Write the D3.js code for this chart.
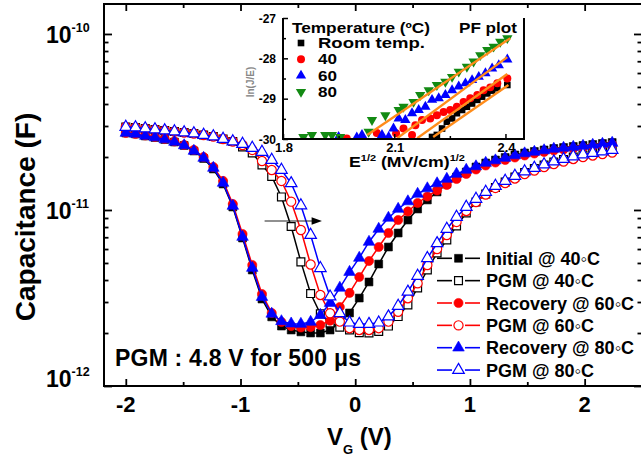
<!DOCTYPE html>
<html>
<head>
<meta charset="utf-8">
<script src="https://cdn.jsdelivr.net/npm/d3@7"></script>
<style>
body{margin:0;background:#fff}
text{font-family:"Liberation Sans",Arial,sans-serif;font-weight:bold;fill:#000}
</style>
</head>
<body>
<svg id="chart" width="641" height="457"></svg>
<script>
// gate voltage sweep (V), 51 points
const vg = d3.range(51).map(i => -2 + i * 0.0848)

// capacitance in pF
const initial40 = [27.38,27.03,26.33,25.82,25.15,24.34,23.26,21.64,19.61,17.10,14.05,10.40,6.93,4.56,3.12,2.47,2.19,2.08,2.03,2.00,2.00,2.08,2.31,2.60,3.16,3.90,4.93,6.16,7.40,8.77,10.13,11.40,12.66,14.05,15.40,16.44,17.55,18.49,19.23,19.87,20.54,21.08,21.50,21.93,22.36,22.65,22.95,23.26,23.56,23.87,24.18]
const pgm40 = [29.62,29.43,29.05,28.67,28.29,27.93,27.56,27.21,26.68,26.16,25.31,24.50,22.80,21.08,18.02,15.50,11.86,8.06,5.07,3.35,2.57,2.28,2.16,2.08,2.01,2.00,2.04,2.19,2.48,2.89,3.61,4.56,5.70,6.75,8.11,9.62,11.10,12.33,13.42,14.43,15.40,16.34,17.21,18.02,18.74,19.35,20.00,20.54,20.94,21.36,21.79]
const recovery60 = [27.38,27.03,26.50,25.99,25.31,24.50,23.41,21.93,20.00,17.55,14.62,10.82,7.30,4.87,3.33,2.60,2.31,2.19,2.15,2.16,2.22,2.35,2.81,3.38,4.16,5.13,6.16,7.40,8.77,9.81,10.96,11.93,12.91,13.87,15.00,16.02,16.99,17.90,18.61,19.23,19.87,20.40,20.94,21.36,21.79,22.07,22.36,22.65,22.95,23.26,23.56]
const pgm60 = [29.62,29.43,29.05,28.67,28.29,27.93,27.56,27.21,26.68,26.16,25.31,24.50,23.41,21.93,18.98,16.88,14.62,11.15,7.70,4.90,3.29,2.59,2.32,2.13,2.08,2.08,2.13,2.32,2.64,3.15,3.83,4.87,6.00,7.21,8.55,9.87,11.10,12.25,13.34,14.24,15.10,16.02,16.77,17.55,18.25,18.85,19.48,20.00,20.40,20.81,21.22]
const recovery80 = [27.38,27.03,26.33,25.82,25.15,24.34,23.26,21.64,19.74,17.32,14.24,10.54,7.02,4.68,3.20,2.57,2.33,2.26,2.25,2.31,2.53,2.96,3.61,4.44,5.34,6.58,7.80,9.01,10.13,11.18,12.33,13.25,14.15,15.00,16.02,16.88,17.67,18.49,19.10,19.74,20.40,20.94,21.36,21.79,22.22,22.51,22.80,23.10,23.41,23.71,24.03]
const pgm80 = [29.62,29.43,29.05,28.67,28.29,27.93,27.56,27.21,26.68,26.16,25.31,24.50,23.71,22.51,21.36,19.23,16.88,14.18,10.61,7.21,4.67,3.22,2.59,2.29,2.25,2.25,2.29,2.48,2.85,3.43,4.22,5.32,6.47,7.80,9.13,10.40,11.55,12.66,13.69,14.62,15.61,16.55,17.32,18.13,18.85,19.48,20.14,20.67,21.08,21.50,21.93]

const xTicks = [-2, -1, 0, 1, 2]
const xMinor = [-1.5, -0.5, 0.5, 1.5]
const yTicks = [1e-12, 1e-11, 1e-10]

// inset: Poole-Frenkel plot, [E^1/2, ln(J/E)]
const pfRoom = [[2.202,-29.95],[2.215,-29.90],[2.229,-29.74],[2.242,-29.57],[2.256,-29.49],[2.269,-29.36],[2.283,-29.28],[2.296,-29.20],[2.310,-29.12],[2.324,-29.03],[2.337,-28.95],[2.351,-28.87],[2.364,-28.80],[2.378,-28.74],[2.405,-28.66]]
const pf40 = [[1.972,-29.99],[2.053,-29.85],[2.105,-29.86],[2.125,-29.74],[2.148,-29.90],[2.157,-29.66],[2.175,-29.53],[2.197,-29.49],[2.215,-29.41],[2.233,-29.33],[2.251,-29.28],[2.269,-29.20],[2.287,-29.08],[2.305,-28.99],[2.324,-28.91],[2.341,-28.79],[2.359,-28.72],[2.378,-28.62],[2.405,-28.50]]
const pf60 = [[1.950,-29.95],[1.999,-29.96],[2.013,-29.90],[2.067,-29.90],[2.085,-29.95],[2.098,-29.74],[2.112,-29.49],[2.130,-29.53],[2.148,-29.36],[2.166,-29.28],[2.184,-29.20],[2.202,-29.03],[2.220,-28.99],[2.238,-28.91],[2.256,-28.79],[2.274,-28.70],[2.292,-28.62],[2.310,-28.54],[2.328,-28.46],[2.346,-28.37],[2.364,-28.25],[2.382,-28.17],[2.405,-28.03]]
const pf80 = [[1.855,-29.95],[1.878,-29.90],[1.914,-29.90],[1.932,-29.90],[1.954,-29.95],[2.031,-29.82],[2.040,-29.53],[2.076,-29.41],[2.112,-29.28],[2.125,-29.20],[2.152,-29.08],[2.170,-28.91],[2.193,-28.79],[2.215,-28.66],[2.238,-28.58],[2.256,-28.46],[2.274,-28.33],[2.296,-28.21],[2.314,-28.08],[2.332,-27.92],[2.351,-27.79],[2.368,-27.71],[2.386,-27.59],[2.405,-27.50]]
const fitRoom = [[2.205,-29.95],[2.408,-28.66]]
const fit40 = [[2.162,-29.98],[2.405,-28.39]]
const fit60 = [[2.108,-29.98],[2.405,-27.97]]
const fit80 = [[2.027,-29.90],[2.413,-27.50]]
const pfTicksX = [1.8, 2.1, 2.4]
const pfTicksY = [-30, -29, -28, -27]

const svg = d3.select("#chart")
svg.append("rect").attr("width",641).attr("height",457).attr("fill","#fff")

const x = d3.scaleLinear().domain([-2.19, 2.5]).range([104, 642])
const y = d3.scaleLog().domain([1e-12, 1.48e-10]).range([386, 4])

const shapes = {square:d3.symbolSquare, circle:d3.symbolCircle, triangle:d3.symbolTriangle}
const sizes = {square:62, circle:66, triangle:58}

const series = [
  {name:"Initial @ 40", c:initial40, color:"#000000", shape:"square", open:false},
  {name:"PGM @ 40", c:pgm40, color:"#000000", shape:"square", open:true},
  {name:"Recovery @ 60", c:recovery60, color:"#ff0000", shape:"circle", open:false},
  {name:"PGM @ 60", c:pgm60, color:"#ff0000", shape:"circle", open:true},
  {name:"Recovery @ 80", c:recovery80, color:"#0000ff", shape:"triangle", open:false},
  {name:"PGM @ 80", c:pgm80, color:"#0000ff", shape:"triangle", open:true}
]

function marker(sel, s, size) {
  sel.attr("d", d3.symbol().type(shapes[s.shape]).size(size || sizes[s.shape]))
    .attr("fill", s.open ? "#fff" : s.color)
    .attr("stroke", s.color)
    .attr("stroke-width", s.open ? 1.2 : 0.6)
}

// curves
const plot = svg.append("g")
series.forEach(s => {
  const pts = vg.map((v, i) => [x(v), y(s.c[i] * 1e-12)])
  plot.append("path").attr("d", d3.line()(pts))
    .attr("fill","none").attr("stroke", s.color).attr("stroke-width", 1.5)
  plot.selectAll(null).data(pts).join("path")
    .attr("transform", d => `translate(${d[0]},${d[1]})`)
    .call(marker, s)
})

// axes
function tickAxis(axis, tr, vals, size) {
  svg.append("g").attr("transform", tr)
    .call(axis.tickValues(vals).tickSize(size).tickFormat(""))
    .call(g => g.select(".domain").remove())
    .selectAll("line").attr("stroke","#000").attr("stroke-width",1.8)
}
tickAxis(d3.axisBottom(x), "translate(0,386)", xTicks, -7)
tickAxis(d3.axisBottom(x), "translate(0,386)", xMinor, -4)
tickAxis(d3.axisTop(x), "translate(0,4)", xTicks, -7)
tickAxis(d3.axisTop(x), "translate(0,4)", xMinor, -4)
const yMinor = []
;[1e-12, 1e-11, 1e-10].forEach(d => { for (let k = 2; k < 10; k++) if (d * k < 1.48e-10) yMinor.push(d * k) })
tickAxis(d3.axisLeft(y), "translate(104,0)", yTicks, -8)
tickAxis(d3.axisLeft(y), "translate(104,0)", yMinor, -4.5)
tickAxis(d3.axisRight(y), "translate(642,0)", yTicks, -8)
tickAxis(d3.axisRight(y), "translate(642,0)", yMinor, -4.5)

svg.append("rect").attr("x",104).attr("y",4).attr("width",538).attr("height",382)
  .attr("fill","none").attr("stroke","#000").attr("stroke-width",2)

// tick labels
svg.selectAll(null).data(xTicks).join("text")
  .attr("x", d => x(d)).attr("y", 412).attr("text-anchor","middle")
  .attr("font-size", 22).text(d => d)
yTicks.forEach(d => {
  const t = svg.append("text").attr("x", 46).attr("y", y(d) + (d === 1e-12 ? 1 : 9.5)).attr("font-size", 23)
  t.append("tspan").text("10")
  t.append("tspan").attr("font-size", 12.5).attr("dy", -11).text(Math.round(Math.log10(d)))
})

// axis titles
svg.append("text").attr("transform","translate(35,217) rotate(-90)")
  .attr("text-anchor","middle").attr("font-size", 28).text("Capacitance (F)")
const xt = svg.append("text").attr("x", 327).attr("y", 445).attr("font-size", 24)
xt.append("tspan").text("V")
xt.append("tspan").attr("font-size", 13).attr("dy", 9).text("G")
xt.append("tspan").attr("dy", -9).text(" (V)")

// annotation
svg.append("text").attr("x", 115).attr("y", 366).attr("font-size", 23)
  .attr("textLength", 246).attr("lengthAdjust", "spacing").text("PGM : 4.8 V for 500 \u03bcs")
const ay = y(8.66e-12)
svg.append("line").attr("x1", x(-0.79)).attr("x2", x(-0.37)).attr("y1", ay).attr("y2", ay)
  .attr("stroke","#222").attr("stroke-width",1.2)
svg.append("path").attr("d", `M${x(-0.38)},${ay-3.8}L${x(-0.29)},${ay}L${x(-0.38)},${ay+3.8}Z`).attr("fill","#000")

// legend
series.forEach((s, i) => {
  const cy = 258.3 + i * 22.35
  const lg = svg.append("g")
  lg.append("line").attr("x1",437).attr("x2",452).attr("y1",cy).attr("y2",cy).attr("stroke",s.color).attr("stroke-width",1.6)
  lg.append("line").attr("x1",465).attr("x2",480).attr("y1",cy).attr("y2",cy).attr("stroke",s.color).attr("stroke-width",1.6)
  lg.append("path").attr("transform",`translate(458.5,${cy})`).call(marker, s)
  lg.append("text").attr("x", 486).attr("y", cy + 6.5).attr("font-size", 18)
    .text(s.name + "\u25e6C")
})

// ---------- inset ----------
const ix = d3.scaleLinear().domain([1.8, 2.45]).range([283, 524])
const iy = d3.scaleLinear().domain([-30, -27]).range([139, 18])
const inset = svg.append("g")
inset.append("rect").attr("x",283).attr("y",18).attr("width",241).attr("height",121).attr("fill","#fff")
svg.append("clipPath").attr("id","ic").append("rect").attr("x",283).attr("y",18).attr("width",241).attr("height",121)
const ip = inset.append("g").attr("clip-path","url(#ic)")

const pfSets = [
  {label:"Room temp.", pts:pfRoom, fit:fitRoom, color:"#000000", shape:d3.symbolSquare, size:44, rot:0},
  {label:"40", pts:pf40, fit:fit40, color:"#ff0000", shape:d3.symbolCircle, size:50, rot:0},
  {label:"60", pts:pf60, fit:fit60, color:"#0000ff", shape:d3.symbolTriangle, size:46, rot:0},
  {label:"80", pts:pf80, fit:fit80, color:"#138a13", shape:d3.symbolTriangle, size:46, rot:180}
]
pfSets.forEach(p => {
  ip.selectAll(null).data(p.pts).join("path")
    .attr("transform", d => `translate(${ix(d[0])},${iy(d[1])}) rotate(${p.rot})`)
    .attr("d", d3.symbol().type(p.shape).size(p.size)).attr("fill", p.color)
})
pfSets.forEach(p => {
  ip.append("path").attr("d", d3.line().x(d => ix(d[0])).y(d => iy(d[1]))(p.fit))
    .attr("stroke","#ff8c1a").attr("stroke-width",2.4).attr("fill","none")
})

function itick(axis, tr, vals, size) {
  inset.append("g").attr("transform", tr)
    .call(axis.tickValues(vals).tickSize(size).tickFormat(""))
    .call(g => g.select(".domain").remove())
    .selectAll("line").attr("stroke","#000").attr("stroke-width",1.5)
}
itick(d3.axisBottom(ix), "translate(0,139)", pfTicksX, -5)
itick(d3.axisBottom(ix), "translate(0,139)", [1.95, 2.25], -3)
itick(d3.axisLeft(iy), "translate(283,0)", pfTicksY, -5)
itick(d3.axisLeft(iy), "translate(283,0)", [-29.5, -28.5, -27.5], -3)
inset.append("path").attr("d","M283,18V139H524V18").attr("fill","none").attr("stroke","#000").attr("stroke-width",2)

inset.selectAll(null).data(pfTicksY).join("text")
  .attr("x", 276).attr("y", d => iy(d) + 4.5).attr("text-anchor","end").attr("font-size", 12).text(d => d)
inset.selectAll(null).data(pfTicksX).join("text")
  .attr("x", d => ix(d) + 1).attr("y", 152).attr("text-anchor","middle").attr("font-size", 13).text(d => d.toFixed(1))
inset.append("text").attr("transform","translate(254,82) rotate(-90)").attr("text-anchor","middle")
  .attr("font-size", 10).attr("font-weight","normal").style("fill","#888").text("ln(J/E)")
const et = inset.append("text").attr("transform","translate(349,167) scale(1.22,1)").attr("font-size", 14.5)
et.append("tspan").text("E")
et.append("tspan").attr("font-size", 9).attr("dy", -6).text("1/2")
et.append("tspan").attr("dy", 6).text(" (MV/cm)")
et.append("tspan").attr("font-size", 9).attr("dy", -6).text("1/2")

function ilabel(x0, y0, str, w) {
  inset.append("text").attr("x", x0).attr("y", y0).attr("font-size", 14.5)
    .attr("textLength", w).attr("lengthAdjust","spacingAndGlyphs").text(str)
}
ilabel(292, 33, "Temperature (\u00baC)", 138)
ilabel(459, 33, "PF plot", 58)
const lw = [107, 19, 19, 19]
pfSets.forEach((p, i) => {
  const cy = 43 + i * 16.3
  inset.append("path").attr("transform", `translate(301,${cy}) rotate(${p.rot})`)
    .attr("d", d3.symbol().type(p.shape).size(p.size)).attr("fill", p.color)
  ilabel(318, cy + 5, p.label, lw[i])
})
</script>
</body>
</html>
